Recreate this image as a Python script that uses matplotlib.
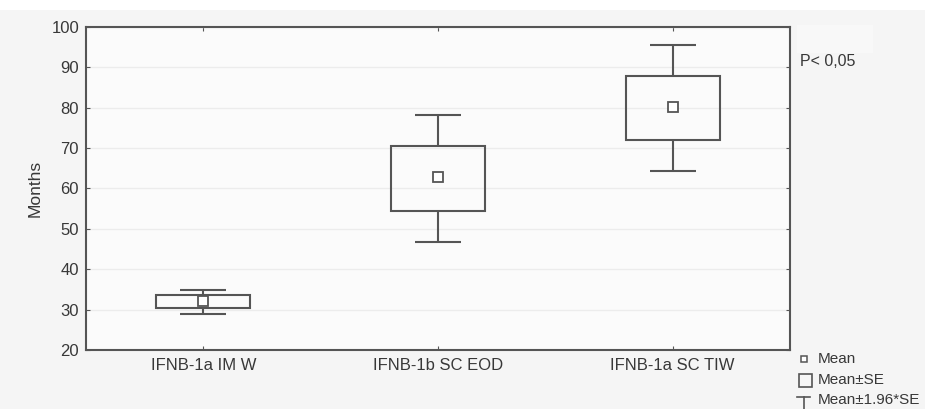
import matplotlib.pyplot as plt
from matplotlib.patches import Rectangle
from matplotlib.lines import Line2D

# values
groups = ["IFNB-1a IM W", "IFNB-1b SC EOD", "IFNB-1a SC TIW"]
means = [32.1, 62.8, 80.1]
se_low = [30.4, 54.5, 72.0]
se_high = [33.5, 70.6, 87.9]
ci_low = [28.9, 46.8, 64.3]
ci_high = [34.9, 78.3, 95.5]
yticks = [20, 30, 40, 50, 60, 70, 80, 90, 100]

plt.rcParams['font.family'] = ['Liberation Sans', 'DejaVu Sans']
line_col = '#555555'
txt_col = '#383838'

fig = plt.figure(figsize=(9.25, 4.09), dpi=100)
fig.patch.set_facecolor('#f5f5f5')
# white strip along the top edge
fig.add_artist(Rectangle((0, 1-10/409), 1, 10/409, color='white', lw=0,
                         transform=fig.transFigure, zorder=0))
fig.add_artist(Rectangle((797/925, 1-53/409), 76/925, 28/409, color='#f8f8f8', lw=0,
                         transform=fig.transFigure, zorder=0))

ax = fig.add_axes([86/925, 1-350/409, (790-86)/925, (350-27)/409])
ax.set_facecolor('#fbfbfb')

box_w = 0.40
cap_w = 0.196
for i, g in enumerate(groups):
    x = i + 1
    # whiskers (mean +- 1.96*SE)
    ax.vlines(x, se_high[i], ci_high[i], color=line_col, lw=1.5)
    ax.vlines(x, ci_low[i], se_low[i], color=line_col, lw=1.5)
    ax.hlines([ci_low[i], ci_high[i]], x - cap_w/2, x + cap_w/2, color=line_col, lw=1.5)
    # box (mean +- SE)
    ax.add_patch(Rectangle((x - box_w/2, se_low[i]), box_w, se_high[i] - se_low[i],
                           fill=False, edgecolor=line_col, lw=1.5))
    ax.plot(x, means[i], 's', ms=6.5, mfc='white', mec=line_col, mew=1.3)

ax.set_xlim(0.5, 3.5)
ax.set_ylim(20, 100)
ax.set_yticks(yticks)
ax.set_xticks([1, 2, 3])
ax.set_xticklabels(groups)
ax.grid(axis='y', color='#ececec', lw=1)
ax.set_axisbelow(True)
ax.tick_params(direction='in', length=3, color=line_col, labelcolor=txt_col,
               labelsize=12, top=True, right=True)
ax.tick_params(axis='x', pad=6)
ax.tick_params(axis='y', pad=5)
for s in ax.spines.values():
    s.set_color(line_col)
    s.set_linewidth(1.5)
ax.set_ylabel("Months", color=txt_col, fontsize=12.5, labelpad=6)

fig.text(800/925, 1-61/409, "P< 0,05", color=txt_col, fontsize=11.5, va='center')

# legend outside the axes, bottom right
fig.add_artist(Line2D([804/925], [1-359/409], marker='s', ms=5, mfc='white',
                      mec=line_col, mew=1.1, transform=fig.transFigure))
fig.text(818/925, 1-359/409, "Mean", color=txt_col, fontsize=11, va='center')
fig.add_artist(Rectangle((799/925, 1-387/409), 13/925, 13/409, fill=False,
                         edgecolor=line_col, lw=1.2, transform=fig.transFigure))
fig.text(818/925, 1-380/409, "Mean\u00b1SE", color=txt_col, fontsize=11, va='center')
fig.add_artist(Line2D([797/925, 810/925], [1-397/409, 1-397/409], color=line_col,
                      lw=1.2, transform=fig.transFigure))
fig.add_artist(Line2D([803.5/925, 803.5/925], [1-397/409, 1-409/409], color=line_col,
                      lw=1.2, transform=fig.transFigure))
fig.text(818/925, 1-400/409, "Mean\u00b11.96*SE", color=txt_col, fontsize=11, va='center')

fig.savefig("out.png", dpi=100, facecolor=fig.get_facecolor())
